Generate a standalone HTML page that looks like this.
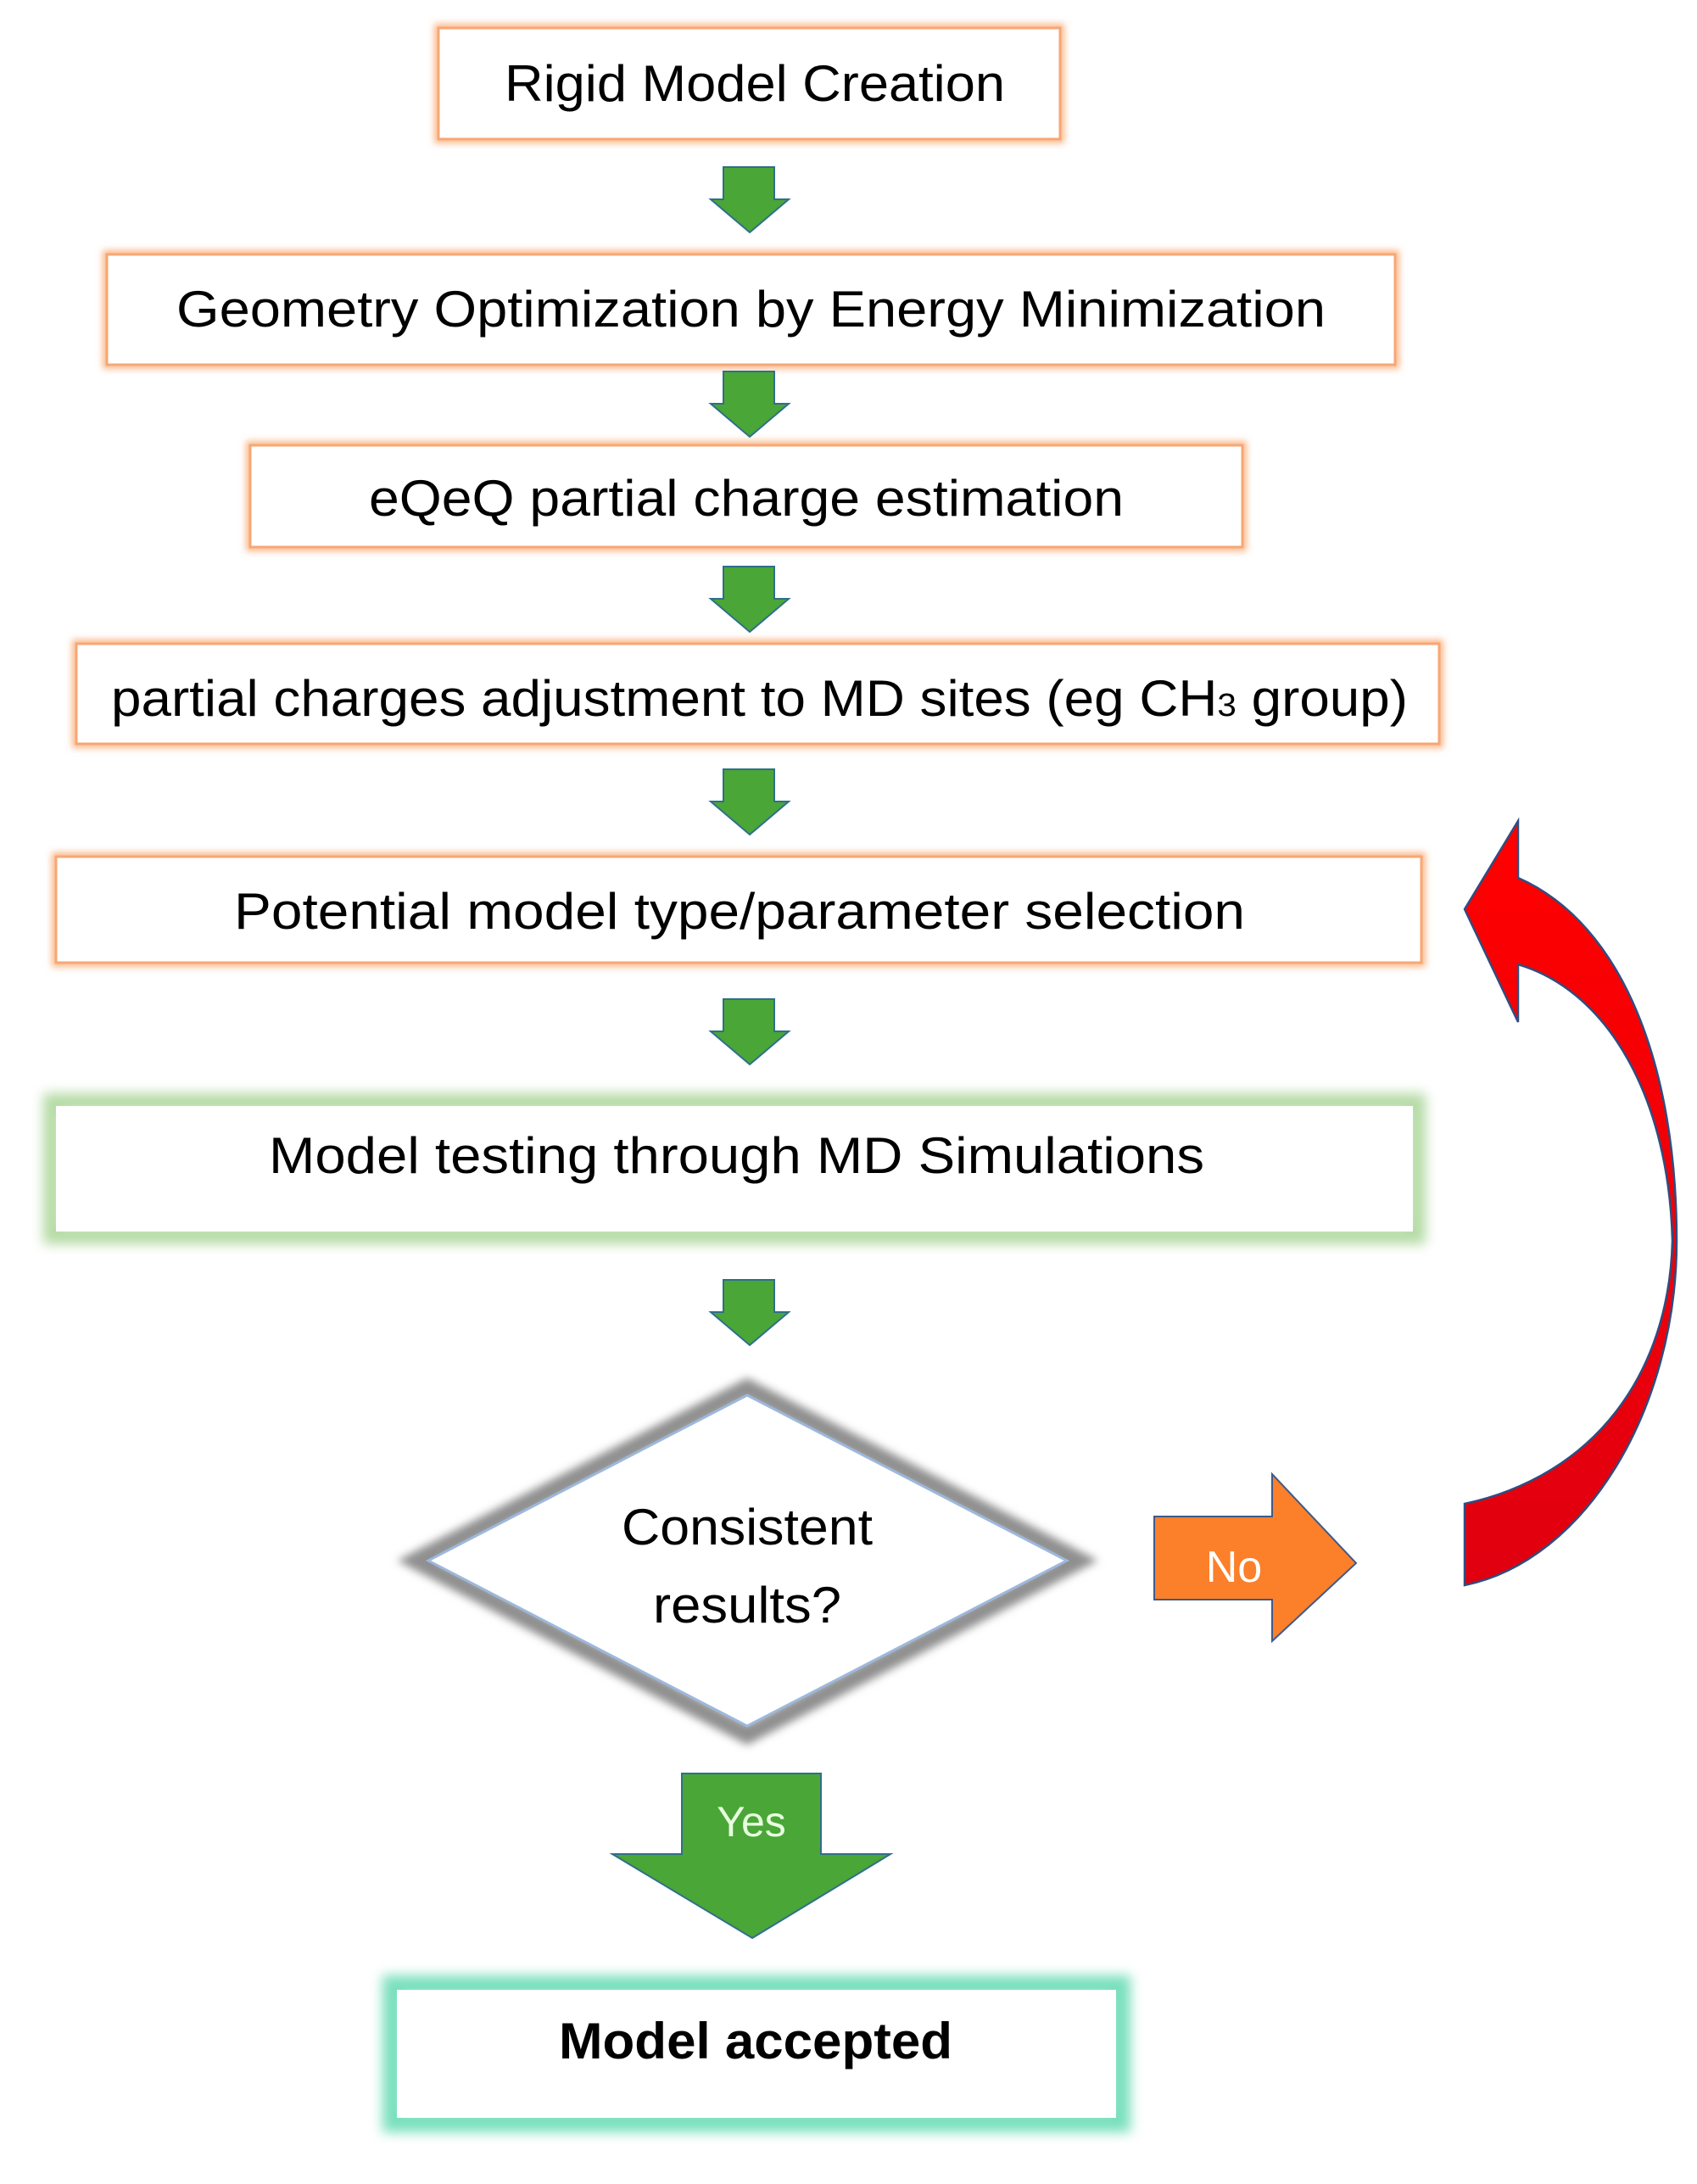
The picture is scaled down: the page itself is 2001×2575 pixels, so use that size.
<!DOCTYPE html>
<html><head><meta charset="utf-8"><style>
html,body{margin:0;padding:0;background:#fff;}
svg{display:block;}
text{font-family:"Liberation Sans",sans-serif;fill:#000;}
</style></head><body>
<svg width="2001" height="2575" viewBox="0 0 2001 2575" xmlns="http://www.w3.org/2000/svg">
<defs>
<filter id="go" x="-10%" y="-30%" width="120%" height="160%"><feGaussianBlur stdDeviation="4"/></filter>
<filter id="gg" x="-10%" y="-30%" width="120%" height="160%"><feGaussianBlur stdDeviation="7"/></filter>
<filter id="gd" x="-20%" y="-20%" width="140%" height="140%"><feGaussianBlur stdDeviation="5"/></filter>
<linearGradient id="rg" x1="0" y1="0" x2="0" y2="1"><stop offset="0" stop-color="#ff0000"/><stop offset="1" stop-color="#e00010"/></linearGradient>
<g id="ga"><polygon points="853,0 913,0 913,38 930,38 884,77 838,38 853,38" fill="#4aa637" stroke="#2f6f8a" stroke-width="2"/></g>
</defs>

<g fill="none" stroke="#f9b889" stroke-width="10" filter="url(#go)">
<rect x="517" y="33" width="733" height="131"/>
<rect x="126" y="300" width="1519" height="130"/>
<rect x="295" y="525" width="1170" height="120"/>
<rect x="90" y="759" width="1607" height="118"/>
<rect x="66" y="1010" width="1610" height="125"/>
</g>
<g fill="#fff" stroke="#f7a774" stroke-width="3">
<rect x="517" y="33" width="733" height="131"/>
<rect x="126" y="300" width="1519" height="130"/>
<rect x="295" y="525" width="1170" height="120"/>
<rect x="90" y="759" width="1607" height="118"/>
<rect x="66" y="1010" width="1610" height="125"/>
</g>

<rect x="62" y="1300" width="1608" height="156" fill="none" stroke="#b5dba5" stroke-width="22" filter="url(#gg)"/>
<rect x="66" y="1304" width="1600" height="148" fill="#fff"/>

<rect x="464" y="2342" width="856" height="159" fill="none" stroke="#79e0bd" stroke-width="26" filter="url(#gg)"/>
<rect x="468" y="2346" width="848" height="151" fill="#fff"/>

<g font-size="60">
<text x="595" y="119" textLength="590" lengthAdjust="spacingAndGlyphs">Rigid Model Creation</text>
<text x="208" y="385" textLength="1355" lengthAdjust="spacingAndGlyphs">Geometry Optimization by Energy Minimization</text>
<text x="435" y="608" textLength="890" lengthAdjust="spacingAndGlyphs">eQeQ partial charge estimation</text>
<text x="131" y="844" textLength="1529" lengthAdjust="spacingAndGlyphs">partial charges adjustment to MD sites (eg CH<tspan font-size="38">3</tspan> group)</text>
<text x="276" y="1095" textLength="1192" lengthAdjust="spacingAndGlyphs">Potential model type/parameter selection</text>
<text x="317" y="1383" textLength="1103" lengthAdjust="spacingAndGlyphs">Model testing through MD Simulations</text>
<text x="659" y="2427" font-weight="bold" textLength="464" lengthAdjust="spacingAndGlyphs">Model accepted</text>
</g>

<use href="#ga" y="197"/>
<use href="#ga" y="438"/>
<use href="#ga" y="668"/>
<use href="#ga" y="907"/>
<use href="#ga" y="1178"/>
<use href="#ga" y="1509"/>

<polygon points="881,1637 1271,1840 881,2045 492,1840" fill="none" stroke="#8f8f8f" stroke-width="22" filter="url(#gd)"/>
<polygon points="881,1645 1258,1840 881,2035 505,1840" fill="#fff" stroke="#9db8dc" stroke-width="3"/>
<g font-size="60" text-anchor="middle">
<text x="881" y="1821" textLength="296" lengthAdjust="spacingAndGlyphs">Consistent</text>
<text x="881" y="1913" textLength="222" lengthAdjust="spacingAndGlyphs">results?</text>
</g>

<polygon points="1361,1788 1500,1788 1500,1738 1599,1843 1500,1935 1500,1886 1361,1886" fill="#fc7f2a" stroke="#3e5a8a" stroke-width="2"/>
<text x="1455" y="1865" font-size="52" text-anchor="middle" style="fill:#fff">No</text>

<polygon points="804,2091 968,2091 968,2186 1050,2186 887,2285 722,2186 804,2186" fill="#4aa637" stroke="#2f6f8a" stroke-width="2"/>
<text x="886" y="2165" font-size="50" text-anchor="middle" style="fill:#e8ffe0">Yes</text>

<path d="M1790,1035 C1915,1090 1977,1260 1977,1463 C1977,1660 1870,1840 1727,1869 L1727,1773 C1880,1740 1968,1620 1972,1463 C1968,1300 1900,1170 1790,1137 L1790,1205 L1727,1072 L1790,968 Z" fill="url(#rg)" stroke="#2f4d80" stroke-width="2.5"/>
</svg>
</body></html>
